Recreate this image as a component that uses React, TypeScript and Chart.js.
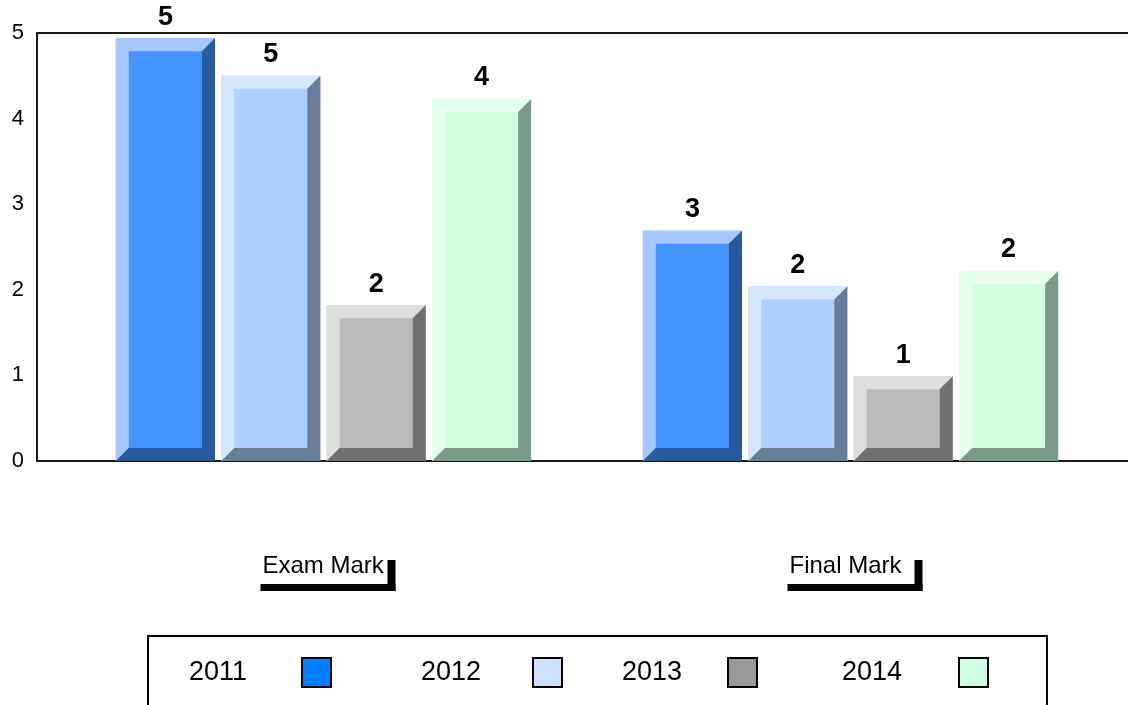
import React, { useEffect, useRef } from "react";
import { Chart, registerables } from "chart.js";

Chart.register(...registerables);

// ---------- data ----------
const categories = ["Exam Mark", "Final Mark"];
const seriesNames = ["2011", "2012", "2013", "2014"];
const values2011 = [4.94, 2.69];
const values2012 = [4.5, 2.04];
const values2013 = [1.82, 0.99];
const values2014 = [4.23, 2.22];
const yTickValues = [0, 1, 2, 3, 4, 5];

// ---------- styles ----------
const faceColors = ["#4494FF", "#ADD0FF", "#BBBBBB", "#D0FFE0"];
const lightColors = ["#A4C8FF", "#D5E6FF", "#DDDDDD", "#E5FFEE"];
const darkColors = ["#285A9C", "#687C98", "#707070", "#7A9A88"];
const legendColors = ["#0080FF", "#CCE0FF", "#999999", "#CCFFE0"];
const FONT = "'Liberation Sans', Arial, sans-serif";

const LEGEND_TEXT_X = [189, 421, 622, 842];
const LEGEND_BOX_X = [302, 533, 728, 959];

const bevelPlugin = {
  id: "bevel",
  afterDatasetDraw(chart: any, args: any) {
    const ctx = chart.ctx;
    const di = args.index;
    const b = 13;
    args.meta.data.forEach((el: any) => {
      const { x, y, base, width } = el.getProps(["x", "y", "base", "width"], true);
      const l = x - width / 2;
      const r = x + width / 2;
      const t = Math.min(y, base);
      const bt = Math.max(y, base);
      ctx.save();
      ctx.fillStyle = lightColors[di];
      ctx.beginPath();
      ctx.moveTo(l, t);
      ctx.lineTo(r, t);
      ctx.lineTo(r - b, t + b);
      ctx.lineTo(l + b, t + b);
      ctx.lineTo(l + b, bt - b);
      ctx.lineTo(l, bt);
      ctx.closePath();
      ctx.fill();
      ctx.fillStyle = darkColors[di];
      ctx.beginPath();
      ctx.moveTo(r, t);
      ctx.lineTo(r, bt);
      ctx.lineTo(l, bt);
      ctx.lineTo(l + b, bt - b);
      ctx.lineTo(r - b, bt - b);
      ctx.lineTo(r - b, t + b);
      ctx.closePath();
      ctx.fill();
      ctx.restore();
    });
  },
  afterDatasetsDraw(chart: any) {
    const ctx = chart.ctx;
    ctx.save();
    ctx.fillStyle = "#000";
    ctx.font = `bold 27px ${FONT}`;
    ctx.textAlign = "center";
    ctx.textBaseline = "middle";
    chart.data.datasets.forEach((ds: any, di: number) => {
      const meta = chart.getDatasetMeta(di);
      meta.data.forEach((el: any, i: number) => {
        const { x, y } = el.getProps(["x", "y"], true);
        ctx.fillText(String(Math.round(ds.data[i])), x, y - 21);
      });
    });
    ctx.restore();
  },
};

const framePlugin = {
  id: "frame",
  beforeDatasetsDraw(chart: any) {
    const ctx = chart.ctx;
    const ca = chart.chartArea;
    const W = chart.width;
    ctx.save();
    ctx.strokeStyle = "#1a1a1a";
    ctx.lineWidth = 2;
    ctx.beginPath();
    ctx.moveTo(37, ca.top);
    ctx.lineTo(W, ca.top);
    ctx.moveTo(37, ca.bottom);
    ctx.lineTo(W, ca.bottom);
    ctx.moveTo(37, ca.top - 1);
    ctx.lineTo(37, ca.bottom + 1);
    ctx.stroke();
    ctx.restore();
  },
  afterDraw(chart: any) {
    const ctx = chart.ctx;
    const xs = chart.scales.x;
    ctx.save();
    // category labels with bracket
    categories.forEach((c, i) => {
      const cx = xs.getPixelForValue(i);
      const left = cx - 63;
      const right = left + 135;
      ctx.fillStyle = "#000";
      ctx.font = `24px ${FONT}`;
      ctx.textAlign = "left";
      ctx.textBaseline = "middle";
      ctx.fillText(c, left + 2, 566);
      ctx.fillRect(left, 584, right - left, 7);
      ctx.fillRect(right - 8, 560, 8, 31);
    });
    // legend
    ctx.strokeStyle = "#000";
    ctx.lineWidth = 2;
    ctx.strokeRect(148, 636, 1047 - 148, 100);
    ctx.font = `27px ${FONT}`;
    ctx.textBaseline = "middle";
    ctx.textAlign = "left";
    seriesNames.forEach((n, i) => {
      ctx.fillStyle = "#000";
      ctx.fillText(n, LEGEND_TEXT_X[i], 673);
      ctx.fillStyle = legendColors[i];
      ctx.fillRect(LEGEND_BOX_X[i], 658, 29, 29);
      ctx.strokeRect(LEGEND_BOX_X[i], 658, 29, 29);
    });
    ctx.restore();
  },
};

export default function App() {
  const ref = useRef<HTMLCanvasElement>(null);
  useEffect(() => {
    const canvas = ref.current!;
    const seriesValues = [values2011, values2012, values2013, values2014];
    const chart = new Chart(canvas, {
      type: "bar",
      data: {
        labels: categories,
        datasets: seriesNames.map((n, i) => ({
          label: n,
          data: seriesValues[i],
          backgroundColor: faceColors[i],
          borderWidth: 0,
          barPercentage: 0.94,
          categoryPercentage: 0.8,
        })),
      },
      options: {
        responsive: false,
        animation: false,
        devicePixelRatio: 1,
        layout: { padding: { top: 33, right: 14, bottom: 244, left: 0 } },
        plugins: {
          legend: { display: false },
          tooltip: { enabled: false },
          title: { display: false },
        },
        scales: {
          x: {
            display: false,
          },
          y: {
            min: 0,
            max: 5,
            afterBuildTicks: (scale: any) => {
              scale.ticks = yTickValues.map((v) => ({ value: v }));
            },
            afterFit: (scale: any) => {
              scale.width = 60;
              scale.paddingTop = 0;
              scale.paddingBottom = 0;
            },
            grid: { display: false, drawTicks: false },
            border: { display: false },
            ticks: {
              color: "#000",
              padding: 36,
              font: { family: FONT, size: 22 },
            },
          },
        },
      },
      plugins: [bevelPlugin, framePlugin],
    } as any);
    return () => chart.destroy();
  }, []);
  return (
    <div style={{ position: "fixed", left: 0, top: 0, width: 1128, height: 705, background: "#fff" }}>
      <canvas ref={ref} width={1128} height={705} style={{ display: "block", width: 1128, height: 705 }} />
    </div>
  );
}
